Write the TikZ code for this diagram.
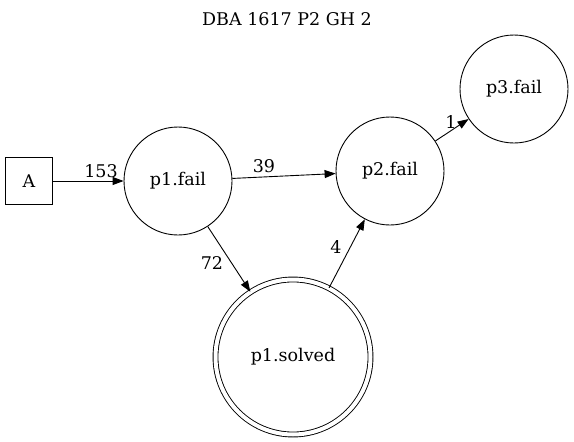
\documentclass[tikz,border=0pt]{standalone}
\usepackage{fontspec}
\setmainfont{DejaVu Serif}
\usetikzlibrary{arrows.meta}
\begin{document}
\begin{tikzpicture}[x=1pt,y=-1pt,line width=0.9pt,
  every node/.style={font=\fontsize{17.5}{20}\selectfont},
  st/.style={draw,circle,minimum size=108pt,inner sep=0pt},
  fin/.style={draw,circle,double,double distance=4pt,minimum size=155pt,inner sep=0pt},
  box/.style={draw,rectangle,minimum width=47pt,minimum height=47pt,inner sep=0pt},
  arr/.style={-{Triangle[length=11pt,width=8pt]}},
  lab/.style={inner sep=0pt}]
\useasboundingbox (0,0) rectangle (574,442);
\node[lab] (title) at (287,19) {DBA 1617 P2 GH 2};
\node[box] (A) at (29,181) {A};
\node[st] (p1) at (178,181) {p1.fail};
\node[st] (p2) at (390,171) {p2.fail};
\node[st] (p3) at (514,89) {p3.fail};
\node[fin] (p1s) at (293,357) {p1.solved};
\draw[arr] (A) -- (p1);
\draw[arr] (p1) -- (p2);
\draw[arr] (p1) -- (p1s);
\draw[arr] (p1s) -- (p2);
\draw[arr] (p2) -- (p3);
\node[lab] (l153) at (101,171) {153};
\node[lab] (l39) at (264,166) {39};
\node[lab] (l72) at (212,263) {72};
\node[lab] (l4) at (336,247) {4};
\node[lab] (l1) at (451,122) {1};
\end{tikzpicture}
\end{document}
